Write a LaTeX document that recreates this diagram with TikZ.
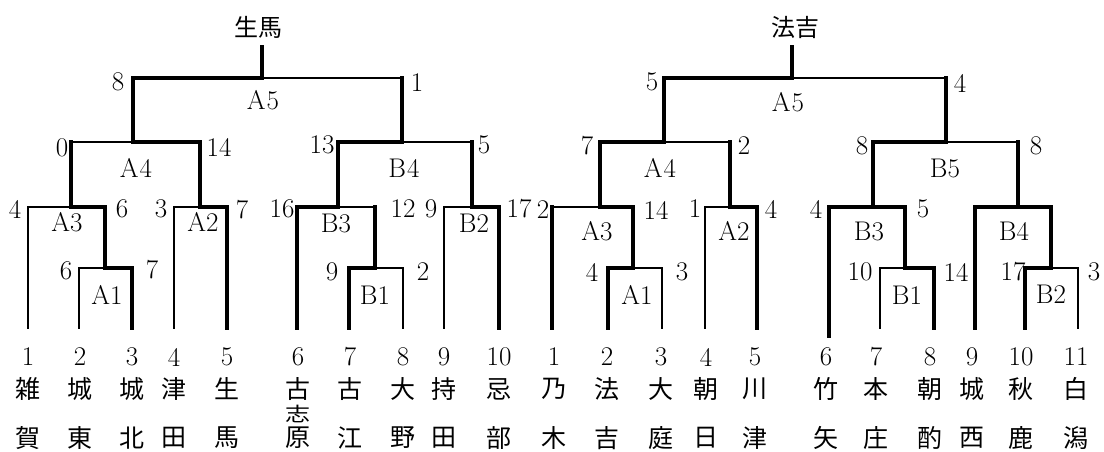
\documentclass[tikz,border=0pt]{standalone}
\usepackage{fontspec}
\usepackage{graphicx}
\newfontfamily\cjk{Noto Sans CJK JP}
\tikzset{
  tk/.style={line width=3.4pt, line cap=rect, line join=miter},
  tn/.style={line width=1.1pt, line cap=rect, line join=miter},
  lbl/.style={font=\fontsize{27}{27}\selectfont, inner sep=0pt},
  kj/.style={font=\cjk\fontsize{25}{25}\selectfont, inner sep=0pt},
  ttl/.style={font=\cjk\fontsize{24}{24}\selectfont, inner sep=0pt}
}
\begin{document}
\begin{tikzpicture}[x=1pt,y=-1pt]
\useasboundingbox (0,0) rectangle (1104,451);
\fill[white] (0,0) rectangle (1104,451);
% ---------------- left bracket (生馬) ----------------
\foreach \n/\x in {1/28,2/79,3/132,4/174,5/227,6/297,7/349,8/403,9/444,10/499}
  \coordinate (g\n) at (\x,328);
\coordinate (gA1) at (105,268);
\coordinate (gA3) at (71,207);
\coordinate (gA2) at (200,207);
\coordinate (gA4) at (133,142);
\coordinate (gB1) at (375,268);
\coordinate (gB3) at (338,207);
\coordinate (gB2) at (472,207);
\coordinate (gB4) at (402,142);
\coordinate (gA5) at (262,78);
\coordinate (gtop) at (262,47);
% thin
\draw[tn] (gA5) -- (gB4 |- gA5);
\draw[tn] (gA4) -- (gA3 |- gA4);
\draw[tn] (gA3) -- (g1 |- gA3) -- (g1);
\draw[tn] (gA1) -- (g2 |- gA1) -- (g2);
\draw[tn] (gA2) -- (g4 |- gA2) -- (g4);
\draw[tn] (gB4) -- (gB2 |- gB4);
\draw[tn] (gB3) -- (gB1 |- gB3);
\draw[tn] (gB1) -- (g8 |- gB1) -- (g8);
\draw[tn] (gB2) -- (g9 |- gB2) -- (g9);
% thick
\draw[tk] (gtop) -- (gA5);
\draw[tk] (gA5) -- (gA4 |- gA5) -- (gA4);
\draw[tk] (gB4 |- gA5) -- (gB4);
\draw[tk] (gA3 |- gA4) -- (gA3);
\draw[tk] (gA4) -- (gA2 |- gA4) -- (gA2);
\draw[tk] (gA3) -- (gA1 |- gA3) -- (gA1);
\draw[tk] (gA1) -- (g3 |- gA1) -- (g3);
\draw[tk] (gA2) -- (g5 |- gA2) -- (g5);
\draw[tk] (gB4) -- (gB3 |- gB4) -- (gB3);
\draw[tk] (gB2 |- gB4) -- (gB2);
\draw[tk] (gB3) -- (g6 |- gB3) -- (g6);
\draw[tk] (gB1 |- gB3) -- (gB1);
\draw[tk] (gB1) -- (g7 |- gB1) -- (g7);
\draw[tk] (gB2) -- (g10 |- gB2) -- (g10);
% labels
\node[ttl] (gtitle) at (258,27) {生馬};
\node[lbl] (gs1) at (118,82) {8};
\node[lbl] (gs2) at (417,83) {1};
\node[lbl] (gmA5) at (263,100) {A\kern1pt 5};
\node[lbl] (gs3) at (62,148) {0};
\node[lbl] (gs4) at (219,147) {14};
\node[lbl] (gmA4) at (136,168) {A\kern1pt 4};
\node[lbl] (gs5) at (15,209) {4};
\node[lbl] (gs6) at (122,209) {6};
\node[lbl] (gmA3) at (67,222) {A3};
\node[lbl] (gs7) at (161,209) {3};
\node[lbl] (gs8) at (242,210) {7};
\node[lbl] (gmA2) at (203,222) {A2};
\node[lbl] (gs9) at (66,271) {6};
\node[lbl] (gs10) at (152,270) {7};
\node[lbl] (gmA1) at (107,295) {A1};
\node[lbl] (gs11) at (322,145) {13};
\node[lbl] (gs12) at (484,145) {5};
\node[lbl] (gmB4) at (404,168) {B\kern1pt 4};
\node[lbl] (gs13) at (282,209) {16};
\node[lbl] (gs14) at (403,209) {12};
\node[lbl] (gmB3) at (336,223) {B3};
\node[lbl] (gs15) at (431,209) {9};
\node[lbl] (gs16) at (519,209) {17};
\node[lbl] (gmB2) at (474,223) {B2};
\node[lbl] (gs17) at (332,272) {9};
\node[lbl] (gs18) at (423,272) {2};
\node[lbl] (gmB1) at (375,295) {B1};
\foreach \x/\a/\b [count=\i] in {28/雑/賀,80/城/東,132/城/北,174/津/田,227/生/馬,298/古/原,350/古/江,403/大/野,444/持/田,499/忌/部}{
  \node[lbl] (gn\i) at (\x,357) {\i};
  \node[kj] (gk\i) at (\x,389) {\a};
  \node[kj] (gl\i) at (\x,438) {\b};
}
\node[kj] (gk6b) at (298,414) {\scalebox{1}[0.78]{志}};
% ---------------- right bracket (法吉) ----------------
\foreach \n/\x in {1/552,2/608,3/662,4/705,5/757,7/880,8/934,9/975,10/1025,11/1078}
  \coordinate (h\n) at (\x,328);
\coordinate (h6) at (829,336);
\coordinate (hA1) at (633,268);
\coordinate (hA3) at (600,207);
\coordinate (hA2) at (730,207);
\coordinate (hA4) at (664,142);
\coordinate (hB1) at (905,268);
\coordinate (hB3) at (873,207);
\coordinate (hB2) at (1051,268);
\coordinate (hB4) at (1018,207);
\coordinate (hB5) at (946,142);
\coordinate (hA5) at (792,78);
\coordinate (htop) at (792,47);
% thin
\draw[tn] (hA5) -- (hB5 |- hA5);
\draw[tn] (hA4) -- (hA2 |- hA4);
\draw[tn] (hA3) -- (h1 |- hA3);
\draw[tn] (hA1) -- (h3 |- hA1) -- (h3);
\draw[tn] (hA2) -- (h4 |- hA2) -- (h4);
\draw[tn] (hB5) -- (hB4 |- hB5);
\draw[tn] (hB1) -- (h7 |- hB1) -- (h7);
\draw[tn] (hB2) -- (h11 |- hB2) -- (h11);
% thick
\draw[tk] (htop) -- (hA5);
\draw[tk] (hA5) -- (hA4 |- hA5) -- (hA4);
\draw[tk] (hB5 |- hA5) -- (hB5);
\draw[tk] (hA4) -- (hA3 |- hA4) -- (hA3);
\draw[tk] (hA2 |- hA4) -- (hA2);
\draw[tk] (h1 |- hA3) -- (h1);
\draw[tk] (hA3) -- (hA1 |- hA3) -- (hA1);
\draw[tk] (hA1) -- (h2 |- hA1) -- (h2);
\draw[tk] (hA2) -- (h5 |- hA2) -- (h5);
\draw[tk] (hB5) -- (hB3 |- hB5) -- (hB3);
\draw[tk] (hB4 |- hB5) -- (hB4);
\draw[tk] (hB3) -- (h6 |- hB3) -- (h6);
\draw[tk] (hB3) -- (hB1 |- hB3) -- (hB1);
\draw[tk] (hB1) -- (h8 |- hB1) -- (h8);
\draw[tk] (hB4) -- (h9 |- hB4) -- (h9);
\draw[tk] (hB4) -- (hB2 |- hB4) -- (hB2);
\draw[tk] (hB2) -- (h10 |- hB2) -- (h10);
% labels
\node[ttl] (htitle) at (795,27) {法吉};
\node[lbl] (hs1) at (652,82) {5};
\node[lbl] (hs2) at (960,83) {4};
\node[lbl] (hmA5) at (788,102) {A\kern1pt 5};
\node[lbl] (hs3) at (587,146) {7};
\node[lbl] (hs4) at (744,146) {2};
\node[lbl] (hmA4) at (660,168) {A\kern1pt 4};
\node[lbl] (hs5) at (543,210) {2};
\node[lbl] (hs6) at (656,210) {14};
\node[lbl] (hmA3) at (597,231) {A3};
\node[lbl] (hs7) at (695,209) {1};
\node[lbl] (hs8) at (771,209) {4};
\node[lbl] (hmA2) at (734,231) {A2};
\node[lbl] (hs9) at (592,272) {4};
\node[lbl] (hs10) at (682,272) {3};
\node[lbl] (hmA1) at (637,295) {A1};
\node[lbl] (hs11) at (862,146) {8};
\node[lbl] (hs12) at (1036,146) {8};
\node[lbl] (hmB5) at (945,168) {B5};
\node[lbl] (hs13) at (816,209) {4};
\node[lbl] (hs14) at (923,209) {5};
\node[lbl] (hmB3) at (869,231) {B3};
\node[lbl] (hmB4) at (1014,231) {B4};
\node[lbl] (hs15) at (860,272) {10};
\node[lbl] (hs16) at (956,272) {14};
\node[lbl] (hmB1) at (907,295) {B1};
\node[lbl] (hs17) at (1013,272) {17};
\node[lbl] (hs18) at (1094,272) {3};
\node[lbl] (hmB2) at (1051,294) {B2};
\foreach \x/\a/\b [count=\i] in {554/乃/木,607/法/吉,661/大/庭,706/朝/日,755/川/津,826/竹/矢,876/本/庄,930/朝/酌,972/城/西,1021/秋/鹿,1076/白/潟}{
  \node[lbl] (hn\i) at (\x,357) {\i};
  \node[kj] (hk\i) at (\x,389) {\a};
  \node[kj] (hl\i) at (\x,438) {\b};
}
\end{tikzpicture}
\end{document}
